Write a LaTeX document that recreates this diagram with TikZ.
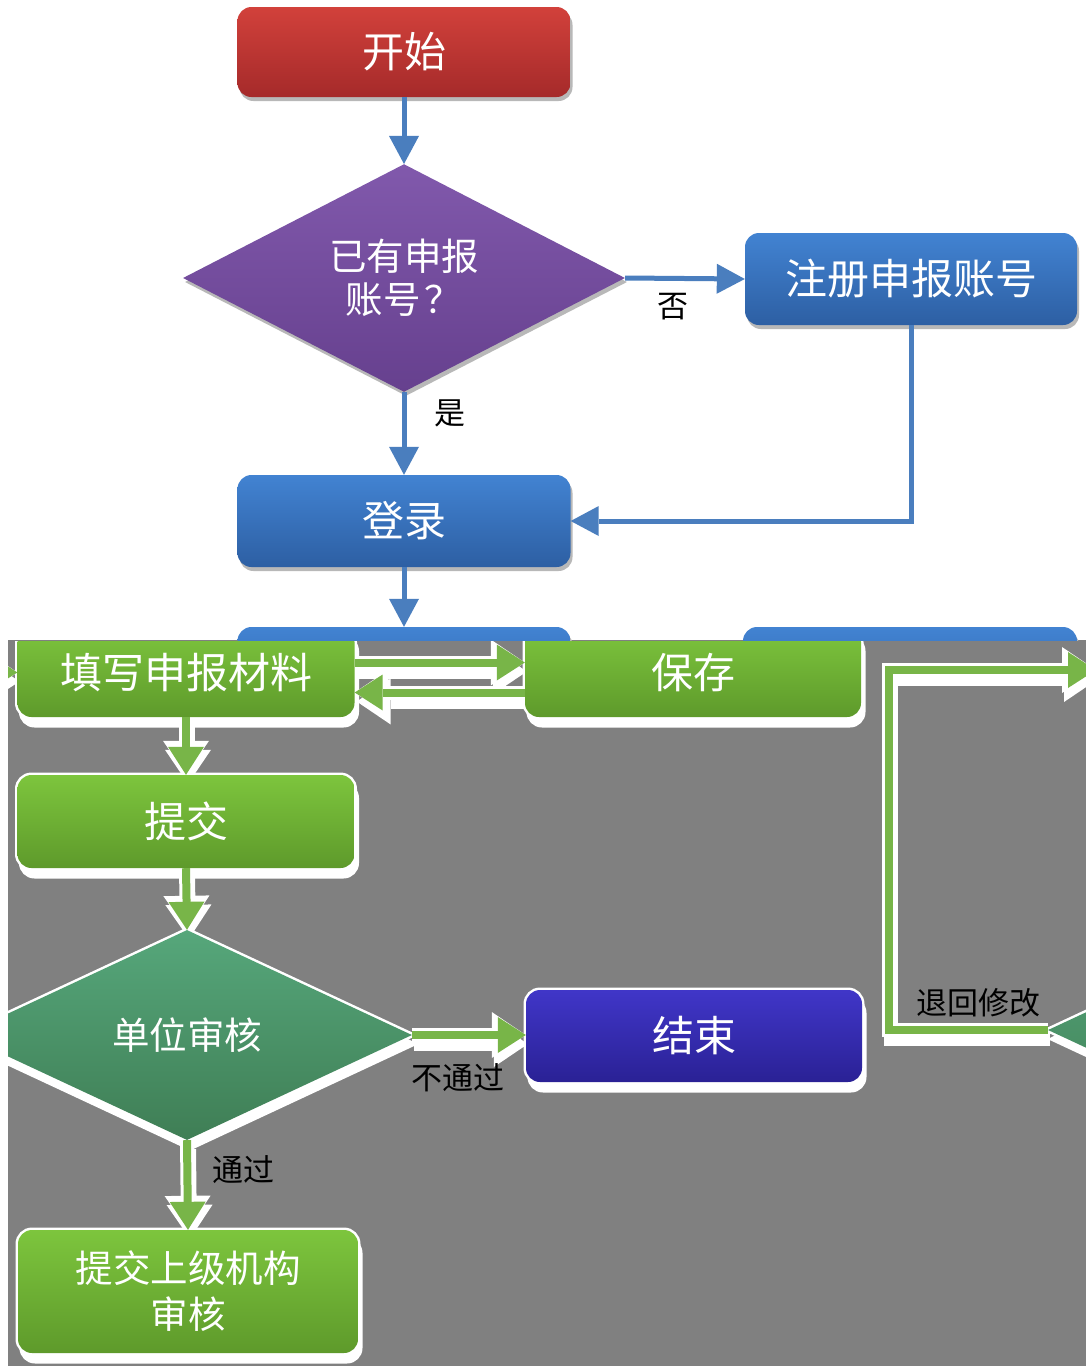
\documentclass[tikz,border=0pt]{standalone}
\usepackage{fontspec}
\newfontfamily\cjk{Noto Sans CJK SC}
\usetikzlibrary{shapes.geometric,arrows.meta,shadows}
\pgfdeclarelayer{back}
\pgfsetlayers{back,main}
\definecolor{bluearrow}{HTML}{4A7EBE}
\definecolor{redtop}{HTML}{D2413B}
\definecolor{redbot}{HTML}{A52A2A}
\definecolor{bluetop}{HTML}{4283D2}
\definecolor{bluebot}{HTML}{2D5FA3}
\definecolor{purtop}{HTML}{8159AC}
\definecolor{purbot}{HTML}{66408E}
\definecolor{grtop}{HTML}{7DC53D}
\definecolor{grbot}{HTML}{5E9A2B}
\definecolor{garrow}{HTML}{78B548}
\definecolor{dgtop}{HTML}{56A77B}
\definecolor{dgbot}{HTML}{3F7E55}
\definecolor{endtop}{HTML}{4036C8}
\definecolor{endbot}{HTML}{2A2195}
\definecolor{graybg}{HTML}{808080}
\tikzset{
  basebox/.style={rectangle, rounded corners=14pt, minimum width=333pt, minimum height=90pt,
    inner sep=0pt, text=white, font=\cjk\fontsize{42pt}{48pt}\selectfont},
  topshadow/.style={general shadow={fill=black!28, shadow xshift=2pt, shadow yshift=-4pt}},
  redbox/.style={basebox, topshadow, top color=redtop, bottom color=redbot},
  bluebox/.style={basebox, topshadow, top color=bluetop, bottom color=bluebot},
  glow/.style={general shadow={fill=white, draw=white, line width=3pt, shadow xshift=3pt, shadow yshift=-9pt},
    general shadow={fill=white, draw=white, line width=5pt}},
  gbox/.style={basebox, glow, top color=grtop, bottom color=grbot},
  endbox/.style={basebox, glow, top color=endtop, bottom color=endbot},
  pdia/.style={diamond, inner sep=0pt, minimum width=442pt, minimum height=213pt, topshadow,
    top color=purtop, bottom color=purbot, text=white, align=center,
    font=\cjk\fontsize{37.5pt}{43pt}\selectfont},
  gdia/.style={diamond, inner sep=0pt, minimum width=450pt, minimum height=210pt, glow,
    top color=dgtop, bottom color=dgbot, text=white, align=center,
    font=\cjk\fontsize{37.5pt}{43pt}\selectfont},
  lab/.style={text=black, inner sep=0pt, font=\cjk\fontsize{31pt}{36pt}\selectfont},
  barrow/.style={draw=bluearrow, line width=5pt, -{Triangle[width=30pt,length=28pt,line width=0pt]}},
  ghalo/.style={draw=white, line width=14pt, -{Triangle[width=46pt,length=34pt,line width=0pt]}},
  gline/.style={draw=garrow, line width=8pt, -{Triangle[width=36pt,length=28pt,line width=0pt]}},
}
\newcommand\gconn[1]{%
  \begin{pgfonlayer}{back}\begin{scope}
    \clip (8,641) rectangle (1086,1366);
    \draw[ghalo] #1;
    \draw[ghalo, transform canvas={shift={(2pt,-9pt)}}] #1;
  \end{scope}\end{pgfonlayer}
  \draw[gline] #1;}
\begin{document}
\begin{tikzpicture}[x=1pt,y=-1pt]
\useasboundingbox (0,0) rectangle (1086,1366);
\begin{pgfonlayer}{back}
  \fill[white] (0,0) rectangle (1086,1366);
  \fill[graybg] (8,640) rectangle (1086,1366);
\end{pgfonlayer}
% ---------- top part ----------
\node[redbox] (start) at (404,52) {开始};
\node[pdia] (q1) at (404,278) {已有申报\\账号\hspace{4pt}？};
\node[bluebox, minimum width=332pt, minimum height=92pt] (reg) at (911,279) {注册申报账号};
\node[bluebox, minimum height=92pt] (login) at (404,521) {登录};
\begin{scope}
  \clip (0,600) rectangle (1086,640);
  \node[bluebox] (b1) at (404,672) {};
  \node[bluebox, minimum width=334pt] (b2) at (910,672) {};
\end{scope}
\draw[barrow] (start.south) -- (q1.north);
\draw[barrow] (q1.east) -- (reg.west);
\draw[barrow] (q1.south) -- (login.north);
\draw[barrow] (reg.south) |- (login.east);
\draw[barrow] (login.south) -- (b1.north);
\node[lab] (lno) at (673,307) {否};
\node[lab] (lyes) at (450,413) {是};
% ---------- glitched bottom part ----------
\begin{scope}
  \clip (8,641) rectangle (1086,1366);
  \node[gbox, minimum width=337pt, minimum height=89pt] (fill) at (186,672.5) {填写申报材料};
  \node[gbox, minimum width=336pt, minimum height=89pt] (save) at (693,672.5) {保存};
  \node[gbox, minimum width=337pt, minimum height=93pt] (sub) at (186,821.5) {提交};
  \node[gdia] (q2) at (187,1035) {单位审核};
  \node[endbox, minimum width=336pt, minimum height=92pt] (endb) at (694,1036) {结束};
  \node[gbox, minimum width=340pt, minimum height=123pt, align=center,
        font=\cjk\fontsize{37.5pt}{46pt}\selectfont] (up) at (188,1291.5) {提交上级机构\\审核};
  \node[gdia] (q3) at (1273,1030) {};
  \coordinate (inL) at (-30,672);
  \coordinate (bend) at (889,1030);
  \coordinate (exitR) at (1096,670);
  \gconn{([yshift=10pt]fill.east) -- ([yshift=10pt]save.west)}
  \gconn{([yshift=-20pt]save.west) -- ([yshift=-20pt]fill.east)}
  \gconn{(fill.south) -- (sub.north)}
  \gconn{(sub.south) -- (q2.north)}
  \gconn{(q2.east) -- (q2.east -| endb.west)}
  \gconn{(q2.south) -- (up.north)}
  \gconn{(q3.west) -- (bend) |- (exitR)}
  \gconn{(inL) -- (fill.west)}
  \node[lab] (lnp) at (458,1078) {不通过};
  \node[lab] (lp) at (243,1170) {通过};
  \node[lab] (lret) at (978,1003) {退回修改};
\end{scope}
\end{tikzpicture}
\end{document}
